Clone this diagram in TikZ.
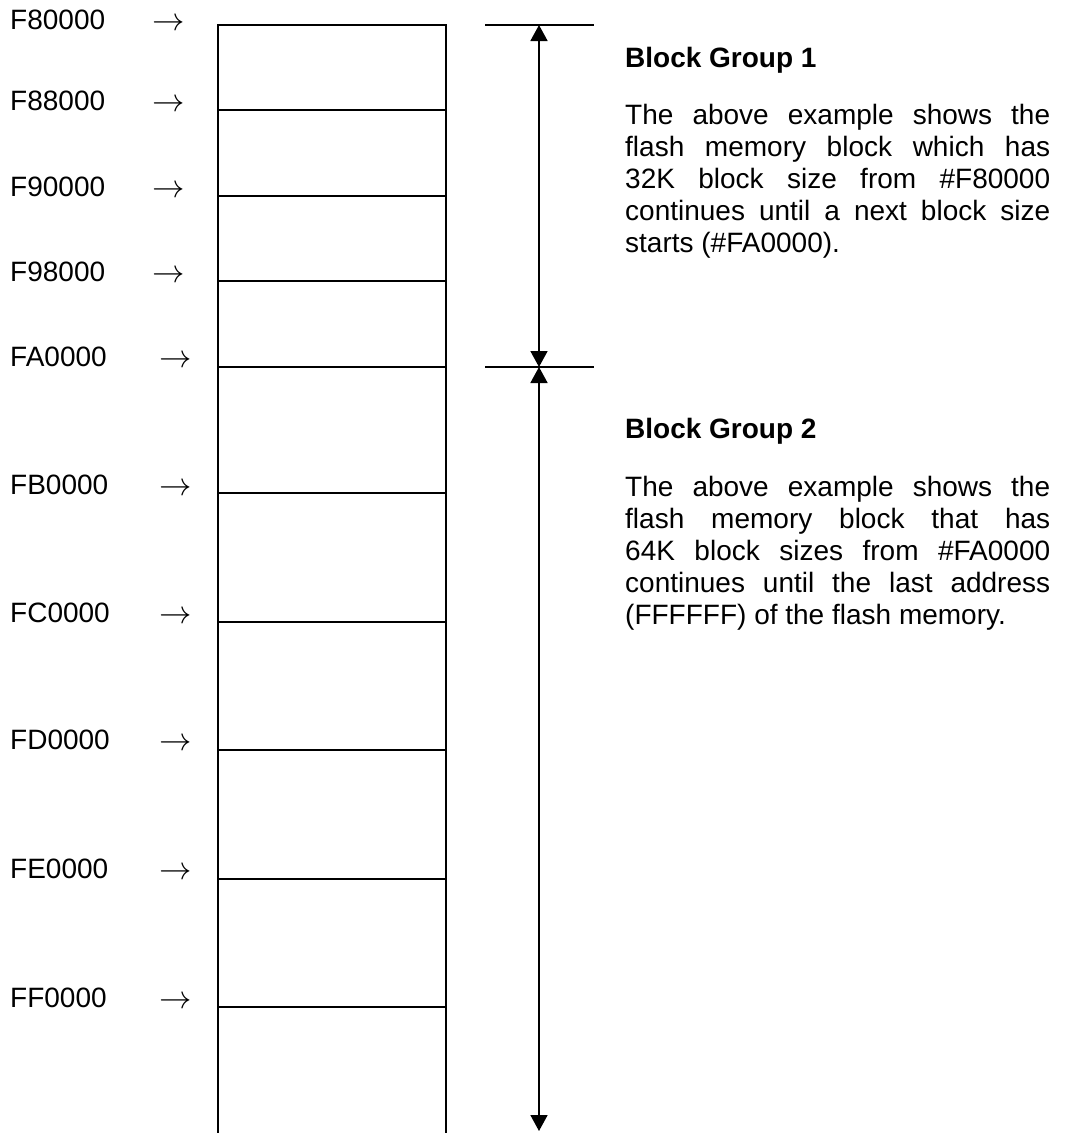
\documentclass[tikz,border=0pt]{standalone}
\usepackage{fontspec}
\setmainfont{Liberation Sans}
\usepackage{tikz}
\usetikzlibrary{arrows.meta}
\tikzset{maddr/.style={anchor=base west, inner sep=0pt, font=\fontsize{28}{32}\selectfont}}
\tikzset{mpoint/.style={anchor=base, inner sep=0pt, scale=1.3, font=\fontsize{28}{32}\selectfont}}
\tikzset{mline/.style={line width=1.7pt, draw=black}}
\tikzset{mdim/.style={{Triangle[length=16pt,width=17pt]}-{Triangle[length=16pt,width=17pt]}, line width=1.7pt}}
\tikzset{mhead/.style={anchor=base west, inner sep=0pt, font=\fontsize{28}{32}\selectfont\bfseries}}
\tikzset{mtext/.style={anchor=north west, inner sep=0pt, text width=425pt, align=justify, font=\fontsize{28}{32}\selectfont}}

\begin{document}
\begin{tikzpicture}[x=1pt, y=-1pt]
  \useasboundingbox (0,0) rectangle (1066,1133);

  \node[maddr] (a0) at (10,29) {F80000};
  \node[maddr] (a1) at (10,110) {F88000};
  \node[maddr] (a2) at (10,196) {F90000};
  \node[maddr] (a3) at (10,281) {F98000};
  \node[maddr] (a4) at (10,366) {FA0000};
  \node[maddr] (a5) at (10,494) {FB0000};
  \node[maddr] (a6) at (10,622) {FC0000};
  \node[maddr] (a7) at (10,749) {FD0000};
  \node[maddr] (a8) at (10,878) {FE0000};
  \node[maddr] (a9) at (10,1007) {FF0000};

  \node[mpoint] (p0) at (169,30) {$\rightarrow$};
  \node[mpoint] (p1) at (169,111) {$\rightarrow$};
  \node[mpoint] (p2) at (169,197) {$\rightarrow$};
  \node[mpoint] (p3) at (169,282) {$\rightarrow$};
  \node[mpoint] (p4) at (176,367) {$\rightarrow$};
  \node[mpoint] (p5) at (176,495) {$\rightarrow$};
  \node[mpoint] (p6) at (176,623) {$\rightarrow$};
  \node[mpoint] (p7) at (176,750) {$\rightarrow$};
  \node[mpoint] (p8) at (176,879) {$\rightarrow$};
  \node[mpoint] (p9) at (176,1008) {$\rightarrow$};

  \draw[mline] (218,1133) -- (218,25) -- (446,25) -- (446,1133);
  \draw[mline] (218,110) -- (446,110);
  \draw[mline] (218,196) -- (446,196);
  \draw[mline] (218,281) -- (446,281);
  \draw[mline] (218,367) -- (446,367);
  \draw[mline] (218,493) -- (446,493);
  \draw[mline] (218,622) -- (446,622);
  \draw[mline] (218,750) -- (446,750);
  \draw[mline] (218,879) -- (446,879);
  \draw[mline] (218,1007) -- (446,1007);

  \coordinate (g1top) at (539,25);
  \coordinate (g1end) at (539,367);
  \coordinate (g2end) at (539,1131);
  \draw[mline] (485,25) -- (594,25);
  \draw[mline] (485,367) -- (594,367);
  \draw[mdim] (g1top) -- (g1end);
  \draw[mdim] (g1end) -- (g2end);

  \node[mhead] (h1) at (625,67) {Block Group 1};
  \node[mtext] (t1) at (625,104) {The above example shows the\linebreak flash memory block which has\linebreak 32K block size from \#F80000\linebreak continues until a next block size\linebreak starts (\#FA0000).};
  \node[mhead] (h2) at (625,438) {Block Group 2};
  \node[mtext] (t2) at (625,476) {The above example shows the\linebreak flash memory block that has\linebreak 64K block sizes from \#FA0000\linebreak continues until the last address\linebreak (FFFFFF) of the flash memory.};
\end{tikzpicture}
\end{document}
